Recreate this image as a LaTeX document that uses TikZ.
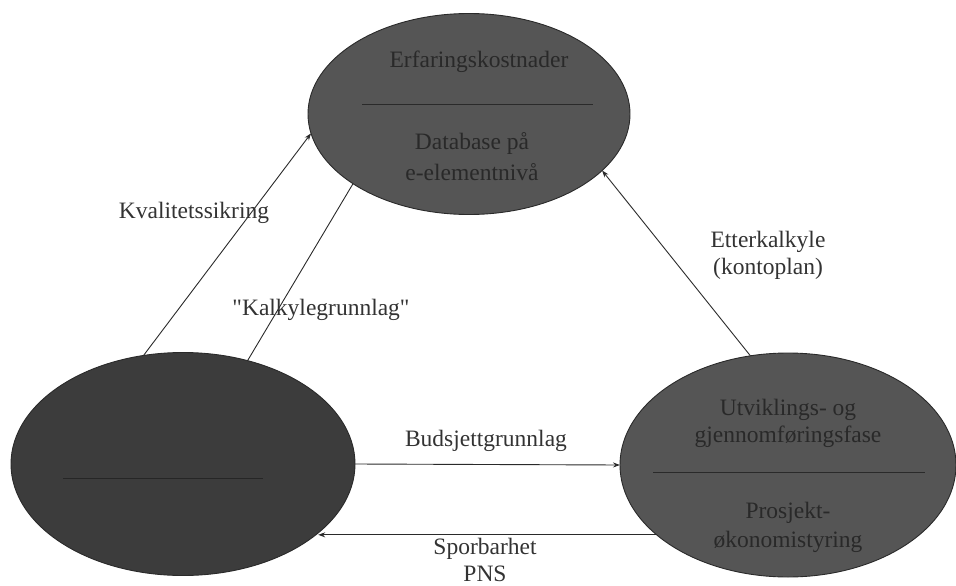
\documentclass[tikz,border=0pt]{standalone}
\usepackage{fontspec}
\setmainfont{Liberation Serif}
\newfontfamily\rawserif{Liberation Serif}
\usetikzlibrary{shapes.geometric,arrows.meta}
\definecolor{inkline}{HTML}{2A2A2A}
\definecolor{blobmid}{HTML}{555555}
\definecolor{blobdark}{HTML}{3C3C3C}
\definecolor{blobtext}{HTML}{292929}
\tikzset{
  blob/.style={ellipse, draw=inkline, line width=0.9pt, inner sep=0pt, outer sep=0pt},
  link/.style={draw=inkline, line width=0.9pt},
  tip/.style={-{Stealth[length=7pt,width=5pt]}},
  lbl/.style={text=black!80, align=center, inner sep=0pt,
    font=\fontsize{23.5}{27}\selectfont},
  intext/.style={text=blobtext, align=center, inner sep=0pt,
    font=\fontsize{23.5}{27}\selectfont},
  divider/.style={draw=inkline, line width=0.9pt}
}
\newcommand{\dq}{{\rawserif"}}
\begin{document}
\begin{tikzpicture}[x=1pt,y=-1pt]
\useasboundingbox (0,0) rectangle (956,586);

% the three phases
\node[blob, fill=blobmid, minimum width=322pt, minimum height=201pt] (T) at (469,114) {};
\node[blob, fill=blobdark, minimum width=344pt, minimum height=223pt] (L) at (183,464) {};
\node[blob, fill=blobmid, minimum width=336pt, minimum height=224pt] (R) at (788,465) {};

% contents of the upper phase
\node[intext] (t1) at (479,62) {Erfaringskostnader};
\draw[divider] (362,104) coordinate (ta) -- (593,104) coordinate (tb);
\node[intext] (t2) at (472,143) {Database på};
\node[intext] (t3) at (472,172) {e-elementnivå};

% contents of the left phase
\draw[divider, draw=black!85] (63,478) coordinate (la) -- (263,478) coordinate (lb);

% contents of the right phase
\node[intext] (r1) at (788,410) {Utviklings- og};
\node[intext] (r2) at (788,437) {gjennomføringsfase};
\draw[divider] (653,472) coordinate (ra) -- (925,472) coordinate (rb);
\node[intext] (r3) at (788,513) {Prosjekt-};
\node[intext] (r4) at (788,542) {økonomistyring};

% flows between the phases
\draw[link, tip] (L.110.9) -- (T.187.3);
\draw[link] (L.58.6) -- (T.211.7);
\draw[link, tip] (R.109.7) -- (T.337.3);
\draw[link, tip] (L.east) -- (R.west);
\draw[link, tip] (R.208.8) -- (L.333 |- R.208.8);

% flow labels
\node[lbl] (kv) at (194,213) {Kvalitetssikring};
\node[lbl] (kg) at (321,310) {\dq Kalkylegrunnlag\dq};
\node[lbl] (ek) at (768,255) {Etterkalkyle\\(kontoplan)};
\node[lbl] (bg) at (486,441) {Budsjettgrunnlag};
\node[lbl] (sp1) at (485,549) {Sporbarhet};
\node[lbl] (sp2) at (485,574) {PNS};
\end{tikzpicture}
\end{document}
